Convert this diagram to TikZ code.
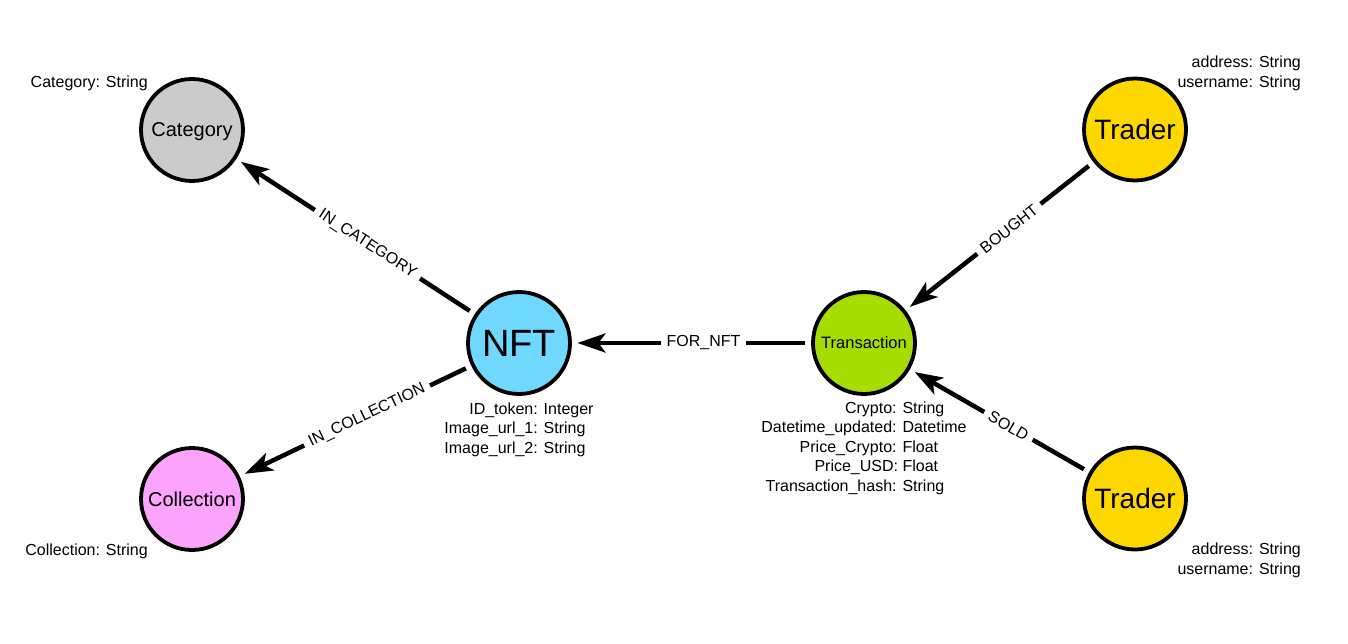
\documentclass[tikz,border=0pt]{standalone}
\usepackage{fontspec}
\setmainfont{Liberation Sans}
\usetikzlibrary{arrows.meta}
\definecolor{cgrey}{HTML}{CBCBCB}
\definecolor{cblue}{HTML}{70D7FF}
\definecolor{cgreen}{HTML}{A5DD00}
\definecolor{cyellow}{HTML}{FCD800}
\definecolor{cpink}{HTML}{FCA4FC}
\tikzset{
  ent/.style={circle, draw=black, line width=3.8pt, inner sep=0pt, minimum size=102pt, text=black, text depth=0pt},
  rel/.style={line width=4.5pt, shorten <=6pt, shorten >=5.5pt, -{Stealth[length=28pt,width=19pt,inset=7pt]}},
  rlab/.style={sloped, fill=white, inner xsep=6pt, inner ysep=2pt, font=\fontsize{16}{19.5}\selectfont, pos=0.45},
  props/.style={inner sep=0pt, font=\fontsize{16}{19.5}\selectfont, align=center}
}
\begin{document}
\begin{tikzpicture}[x=1pt,y=1pt]
\useasboundingbox[fill=white] (0,0) rectangle (1348,-644);
\node[ent, fill=cgrey, font=\fontsize{20}{24}\selectfont] (cat) at (192,-130) {Category};
\node[ent, fill=cblue, font=\fontsize{38}{44}\selectfont] (nft) at (519,-343) {NFT};
\node[ent, fill=cgreen, font=\fontsize{16.5}{20}\selectfont] (tx) at (864,-343) {Transaction};
\node[ent, fill=cyellow, font=\fontsize{28}{32}\selectfont] (tr1) at (1135,-129.5) {Trader};
\node[ent, fill=cyellow, font=\fontsize{28}{32}\selectfont] (tr2) at (1135,-498.5) {Trader};
\node[ent, fill=cpink, font=\fontsize{20}{24}\selectfont] (col) at (192,-499) {Collection};

\draw[rel] (nft) -- node[rlab] {IN\_CATEGORY} (cat);
\draw[rel] (nft) -- node[rlab] {IN\_COLLECTION} (col);
\draw[rel] (tx) -- node[rlab] {FOR\_NFT} (nft);
\draw[rel] (tr1) -- node[rlab] {BOUGHT} (tx);
\draw[rel] (tr2) -- node[rlab] {SOLD} (tx);

\node[props, anchor=east] (pcat) at (148,-83) {Category: String};
\node[props, anchor=east] (pcol) at (148,-551) {Collection: String};
\node[props] (pnft) at (519,-430) {\begin{tabular}{@{}r@{ }l@{}}ID\_token: & Integer\\ Image\_url\_1: & String\\ Image\_url\_2: & String\end{tabular}};
\node[props] (ptx) at (864,-448.5) {\begin{tabular}{@{}r@{ }l@{}}Crypto: & String\\ Datetime\_updated: & Datetime\\ Price\_Crypto: & Float\\ Price\_USD: & Float\\ Transaction\_hash: & String\end{tabular}};
\node[props, anchor=east] (ptr1) at (1301,-73.5) {\begin{tabular}{@{}r@{ }l@{}}address: & String\\ username: & String\end{tabular}};
\node[props, anchor=east] (ptr2) at (1301,-560.5) {\begin{tabular}{@{}r@{ }l@{}}address: & String\\ username: & String\end{tabular}};
\end{tikzpicture}
\end{document}
